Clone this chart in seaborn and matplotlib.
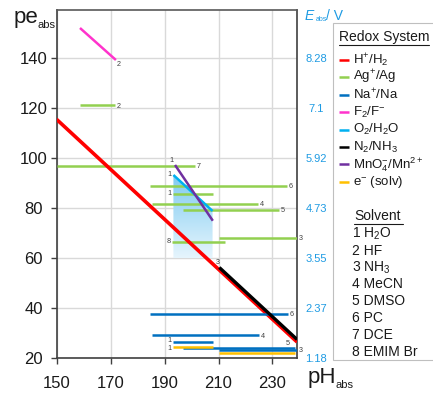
import numpy as np
import pandas as pd
import matplotlib
matplotlib.use("Agg")
import matplotlib.pyplot as plt
import seaborn as sns
from matplotlib.patches import Polygon, Rectangle
from matplotlib.lines import Line2D
from matplotlib.colors import LinearSegmentedColormap

sns.set_theme(style="white")
plt.rcParams['font.family'] = ['Liberation Sans', 'DejaVu Sans']
plt.rcParams['mathtext.fontset'] = 'custom'
plt.rcParams['mathtext.rm'] = 'Liberation Sans'
plt.rcParams['mathtext.it'] = 'Liberation Sans:italic'
plt.rcParams['mathtext.bf'] = 'Liberation Sans:bold'

# ---------------- data ----------------
# H+/H2 (solvent independent line)
h_ph = [150.0, 239.1]
h_pe = [115.5, 26.4]

# Ag+/Ag in several solvents (horizontal segments)
ag_solvent = [2, 7, 6, 1, 4, 5, 3, 8]
ag_pe = [121.0, 96.8, 88.8, 85.6, 81.5, 79.2, 67.9, 66.5]
ag_ph_lo = [158.7, 150.0, 184.6, 193.3, 185.3, 196.7, 210.3, 192.9]
ag_ph_hi = [171.7, 201.3, 235.4, 208.0, 224.7, 232.5, 239.0, 212.4]

# Na+/Na
na_solvent = [6, 4, 1, 5, 3]
na_pe = [37.5, 29.1, 26.3, 23.9, 23.3]
na_ph_lo = [184.6, 185.3, 193.3, 196.7, 210.3]
na_ph_hi = [235.6, 224.9, 208.1, 238.3, 239.0]

# solvated electron
e_solvent = [1, 3]
e_pe = [24.5, 22.1]
e_ph_lo = [193.3, 210.3]
e_ph_hi = [208.1, 238.5]

# F2/F- in HF
f_ph = [158.7, 172.0]
f_pe = [152.0, 139.2]

# O2/H2O in water
o_ph = [193.3, 207.8]
o_pe = [93.2, 78.8]
o_fill_floor = 60.0

# N2/NH3 in ammonia
n_ph = [210.3, 239.1]
n_pe = [56.2, 27.4]

# MnO4-/Mn2+ in water
mn_ph = [193.9, 207.9]
mn_pe = [97.2, 74.9]

pe_ticks = [20, 40, 60, 80, 100, 120, 140]
e_tick_labels = ["1.18", "2.37", "3.55", "4.73", "5.92", "7.1", "8.28"]
ph_ticks = [150, 170, 190, 210, 230]

solvent_names = ["H$_\\mathregular{2}$O", "HF", "NH$_\\mathregular{3}$", "MeCN",
                 "DMSO", "PC", "DCE", "EMIM Br"]

colors = {
    "H": "#FF0000", "Ag": "#92D050", "Na": "#0070C0", "F": "#FF33CC",
    "O": "#00B0F0", "N": "#000000", "Mn": "#7030A0", "e": "#FFC000",
}
legend_labels = [
    ("H", r"$\mathregular{H^{+}/H_{2}}$"),
    ("Ag", r"$\mathregular{Ag^{+}/Ag}$"),
    ("Na", r"$\mathregular{Na^{+}/Na}$"),
    ("F", r"$\mathregular{F_{2}/F^{-}}$"),
    ("O", r"$\mathregular{O_{2}/H_{2}O}$"),
    ("N", r"$\mathregular{N_{2}/NH_{3}}$"),
    ("Mn", r"$\mathregular{MnO_{4}^{-}/Mn^{2+}}$"),
    ("e", r"$\mathregular{e^{-}}$ (solv)"),
]

# ---------------- build long table of segments ----------------
rows = []
seg = 0


def add_seg(system, solvent, x0, x1, y0, y1):
    global seg
    rows.append(dict(system=system, solvent=solvent, seg=seg, pH=x0, pe=y0))
    rows.append(dict(system=system, solvent=solvent, seg=seg, pH=x1, pe=y1))
    seg += 1


add_seg("H", 0, h_ph[0], h_ph[1], h_pe[0], h_pe[1])
for s, y, a, b in zip(ag_solvent, ag_pe, ag_ph_lo, ag_ph_hi):
    add_seg("Ag", s, a, b, y, y)
for s, y, a, b in zip(na_solvent, na_pe, na_ph_lo, na_ph_hi):
    add_seg("Na", s, a, b, y, y)
add_seg("F", 2, f_ph[0], f_ph[1], f_pe[0], f_pe[1])
add_seg("O", 1, o_ph[0], o_ph[1], o_pe[0], o_pe[1])
add_seg("N", 3, n_ph[0], n_ph[1], n_pe[0], n_pe[1])
add_seg("Mn", 1, mn_ph[0], mn_ph[1], mn_pe[0], mn_pe[1])
for s, y, a, b in zip(e_solvent, e_pe, e_ph_lo, e_ph_hi):
    add_seg("e", s, a, b, y, y)
df = pd.DataFrame(rows)

# ---------------- figure ----------------
W, H = 433, 394
fig = plt.figure(figsize=(W / 100, H / 100), dpi=100)


def fp(x, y):
    return x / W, 1 - y / H


ax_l, ax_r, ax_t, ax_b = 56.5, 297, 10, 358
ax = fig.add_axes([ax_l / W, 1 - ax_b / H, (ax_r - ax_l) / W, (ax_b - ax_t) / H])
xlim = (150, 150 + (ax_r - ax_l) / 2.7)
ylim = (20, 20 + (ax_b - ax_t) / 2.5)
ax.set_xlim(*xlim)
ax.set_ylim(*ylim)

ax.set_xticks(ph_ticks)
ax.set_yticks(pe_ticks)
ax.grid(True, color="#D9D9D9", lw=1.0, zorder=0)
ax.set_axisbelow(True)
for sp in ax.spines.values():
    sp.set_color("#404040")
    sp.set_linewidth(1.2)
ax.spines["top"].set_color("#595959")
ax.tick_params(axis="both", which="both", direction="out", length=4, width=1,
               color="#404040", labelsize=12, labelcolor="#1A1A1A")
ax.tick_params(axis="x", pad=9)
ax.tick_params(axis="y", pad=12.5)
ax.xaxis.set_ticks_position("bottom")
ax.yaxis.set_ticks_position("left")
for lab in ax.get_yticklabels():
    lab.set_horizontalalignment("center")

# shaded O2/H2O stability region with a vertical gradient
poly = Polygon([(o_ph[0], o_pe[0]), (o_ph[1], o_pe[1]), (o_ph[1], o_fill_floor),
                (o_ph[0], o_fill_floor)], closed=True, facecolor="none",
               edgecolor="none", transform=ax.transData)
ax.add_patch(poly)
grad_cmap = LinearSegmentedColormap.from_list("o2", ["#7FCBF1", "#E6F5FD"])
grad = np.linspace(0, 1, 256).reshape(-1, 1)
im = ax.imshow(grad, extent=[o_ph[0], o_ph[1], o_fill_floor, o_pe[0]],
               origin="upper", cmap=grad_cmap, aspect="auto", zorder=1)
im.set_clip_path(poly)
ax.set_xlim(*xlim)
ax.set_ylim(*ylim)

widths = {"H": 2.6, "Ag": 1.8, "Na": 1.8, "F": 1.8, "O": 1.8, "N": 2.4,
          "Mn": 1.8, "e": 1.8}
draw_order = ["Ag", "H", "Na", "F", "O", "N", "Mn", "e"]
for z, sysname in enumerate(draw_order):
    sub = df[df.system == sysname]
    sns.lineplot(data=sub, x="pH", y="pe", units="seg", estimator=None,
                 sort=False, color=colors[sysname], lw=widths[sysname],
                 solid_capstyle="butt", ax=ax, legend=False, zorder=3 + z)
ax.set_xlabel("")
ax.set_ylabel("")

# small solvent numbers beside each segment
num_kw = dict(fontsize=5.2, color="#404040", clip_on=False, zorder=20)
ag_side = ["R", "R", "R", "L", "R", "R", "R", "L"]
for s, y, a, b, side in zip(ag_solvent, ag_pe, ag_ph_lo, ag_ph_hi, ag_side):
    if side == "R":
        ax.text(b + 0.7, y - 0.3, str(s), ha="left", va="center", **num_kw)
    else:
        ax.text(a - 0.7, y, str(s), ha="right", va="center", **num_kw)
na_side = ["R", "R", "L", "A", "R"]
for s, y, a, b, side in zip(na_solvent, na_pe, na_ph_lo, na_ph_hi, na_side):
    if side == "R":
        ax.text(b + 0.7, y - 0.3, str(s), ha="left", va="center", **num_kw)
    elif side == "L":
        ax.text(a - 0.7, y + 0.7, str(s), ha="right", va="center", **num_kw)
    else:
        ax.text(b - 2.5, y + 0.6, str(s), ha="center", va="bottom", **num_kw)
for s, y, a, b in zip(e_solvent, e_pe, e_ph_lo, e_ph_hi):
    if s == 1:
        ax.text(a - 0.7, y - 0.7, str(s), ha="right", va="center", **num_kw)
ax.text(f_ph[1] + 0.3, f_pe[1] - 0.3, "2", ha="left", va="top", **num_kw)
ax.text(o_ph[0] - 0.6, o_pe[0], "1", ha="right", va="center", **num_kw)
ax.text(mn_ph[0] - 0.4, mn_pe[0] + 0.2, "1", ha="right", va="bottom", **num_kw)
ax.text(n_ph[0] - 0.4, n_pe[0] + 0.5, "3", ha="center", va="bottom", **num_kw)

# axis titles
fig.text(*fp(14, 18), "pe", fontsize=16, ha="left", va="center",
         color="#1A1A1A")
fig.text(*fp(37.5, 25), "abs", fontsize=8, ha="left", va="center",
         color="#1A1A1A")
fig.text(*fp(308, 378), "pH", fontsize=16, ha="left", va="center",
         color="#1A1A1A")
fig.text(*fp(335.5, 385), "abs", fontsize=8, ha="left", va="center",
         color="#1A1A1A")
fig.text(*fp(304, 16), r"$\mathit{E}$", fontsize=10,
         ha="left", va="center", color="#1E9BE3")
fig.text(*fp(315.5, 19.5), "abs", fontsize=5, ha="left", va="center",
         color="#1E9BE3")
fig.text(*fp(326.5, 16), "/ V", fontsize=10, ha="left", va="center",
         color="#1E9BE3")

# secondary potential axis
ax2 = ax.twinx()
ax2.set_position(ax.get_position())
ax2.set_ylim(ax.get_ylim())
ax2.set_yticks(pe_ticks)
ax2.set_yticklabels(e_tick_labels)
ax2.tick_params(axis="y", length=0, pad=14, labelsize=8, labelcolor="#1E9BE3")
for lab in ax2.get_yticklabels():
    lab.set_horizontalalignment("center")
for sp in ax2.spines.values():
    sp.set_visible(False)
ax2.grid(False)

# legend panel
box = Rectangle(fp(333, 360), (460 - 333) / W, (360 - 23) / H,
                transform=fig.transFigure, facecolor="white",
                edgecolor="#BFBFBF", lw=0.8, clip_on=False)
fig.patches.append(box)
fig.text(*fp(339, 37), "Redox System", fontsize=10, ha="left", va="center",
         color="#1A1A1A")
fig.add_artist(Line2D([339 / W, 429 / W], [1 - 44.5 / H, 1 - 44.5 / H],
                      transform=fig.transFigure, color="#1A1A1A", lw=0.8))
y0, dy = 60, 17.4
for i, (key, lab) in enumerate(legend_labels):
    yy = y0 + i * dy
    fig.add_artist(Line2D([339 / W, 349 / W], [1 - yy / H, 1 - yy / H],
                          transform=fig.transFigure, color=colors[key], lw=1.8,
                          solid_capstyle="butt"))
    fig.text(*fp(353, yy), lab, fontsize=9.5, ha="left", va="center",
             color="#1A1A1A")

fig.text(*fp(354, 216), "Solvent", fontsize=10, ha="left", va="center",
         color="#1A1A1A")
fig.add_artist(Line2D([354 / W, 403 / W], [1 - 223.5 / H, 1 - 223.5 / H],
                      transform=fig.transFigure, color="#1A1A1A", lw=0.8))
for i, name in enumerate(solvent_names):
    yy = 234 + i * 16.8
    fig.text(*fp(352, yy), f"{i + 1} {name}", fontsize=10, ha="left",
             va="center", color="#1A1A1A")

fig.savefig("out.png", dpi=100)
